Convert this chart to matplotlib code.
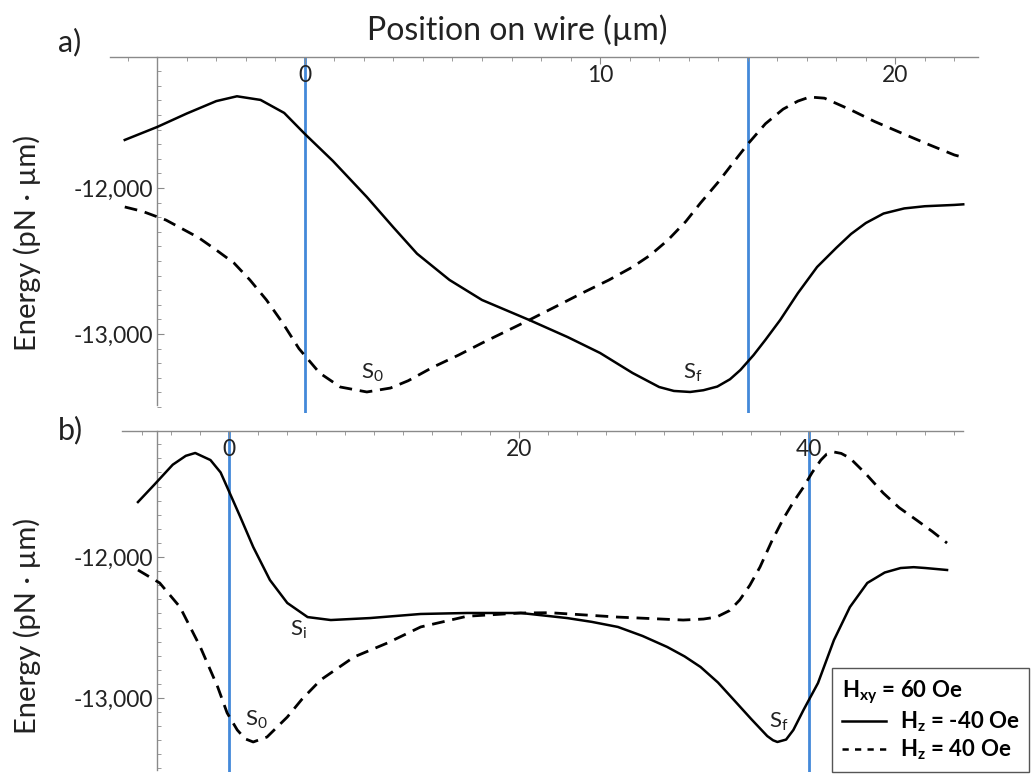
import numpy as np
import matplotlib
matplotlib.use("Agg")
import matplotlib.pyplot as plt
from matplotlib.lines import Line2D
from matplotlib.ticker import MultipleLocator, FuncFormatter

plt.rcParams['font.family'] = ['Lato', 'DejaVu Sans']

# panel a) energy vs position (um, pN*um)
xa_solid = [-6.1, -5.0, -4.0, -3.0, -2.3, -1.5, -0.7, 0.0, 0.95, 2.1, 3.0, 3.8, 4.9, 6.0,
            7.6, 8.9, 10.0, 11.1, 12.0, 12.5, 13.05, 13.5, 13.97, 14.4, 14.75, 15.2, 15.6,
            16.1, 16.7, 17.35, 18.0, 18.5, 19.0, 19.6, 20.3, 21.0, 22.0, 22.3]
ea_solid = [-11671, -11582, -11490, -11405, -11372, -11397, -11486, -11630, -11815, -12062,
            -12270, -12450, -12630, -12767, -12904, -13021, -13130, -13267, -13363, -13390,
            -13397, -13385, -13360, -13310, -13247, -13144, -13040, -12904, -12720, -12541,
            -12410, -12315, -12240, -12175, -12140, -12125, -12116, -12112]
xa_dash = [-6.1, -5.5, -4.7, -3.6, -3.0, -2.4, -1.86, -1.3, -0.75, -0.2, 0.5, 1.2, 2.1, 2.9,
           3.5, 4.35, 5.2, 6.0, 7.6, 8.5, 9.4, 10.3, 11.1, 11.7, 12.3, 12.9, 13.4, 14.0, 14.5,
           15.0, 15.6, 16.2, 16.7, 17.1, 17.6, 18.5, 19.3, 20.2, 21.1, 22.0, 22.3]
ea_dash = [-12130, -12160, -12220, -12340, -12425, -12514, -12630, -12767, -12925, -13100,
           -13267, -13363, -13397, -13370, -13320, -13226, -13145, -13062, -12904, -12812,
           -12719, -12630, -12541, -12460, -12356, -12230, -12103, -11960, -11829, -11700,
           -11560, -11460, -11405, -11377, -11385, -11466, -11545, -11623, -11700, -11774,
           -11790]

# panel b)
xb_solid = [-6.3, -5.2, -3.9, -3.0, -2.35, -1.3, -0.6, -0.15, 0.76, 1.65, 2.8, 4.0, 5.4, 7.0,
            9.7, 13.2, 16.4, 20.1, 23.3, 25.0, 26.8, 28.5, 30.2, 31.4, 32.5, 33.7, 34.8,
            36.0, 37.1, 37.5, 37.8, 38.4, 38.9, 39.6, 40.6, 41.7, 42.8, 44.0, 45.2, 46.3,
            47.2, 48.0, 49.5]
eb_solid = [-11610, -11490, -11345, -11282, -11262, -11312, -11400, -11504, -11716, -11929,
            -12163, -12326, -12426, -12447, -12433, -12404, -12397, -12397, -12433, -12460,
            -12496, -12560, -12638, -12705, -12780, -12890, -13014, -13150, -13270, -13300,
            -13312, -13295, -13227, -13085, -12894, -12589, -12355, -12184, -12110, -12078,
            -12072, -12078, -12092]
xb_dash = [-6.3, -4.8, -3.4, -2.0, -0.8, -0.15, 0.55, 1.1, 1.65, 2.6, 4.0, 5.0, 6.3, 8.6,
           10.9, 13.2, 16.4, 20.1, 22.1, 26.8, 31.3, 32.7, 33.6, 34.5, 35.2, 35.9, 36.6,
           37.4, 38.2, 38.9, 39.6, 40.2, 40.8, 41.2, 41.7, 42.2, 42.8, 43.9, 45.1, 46.2,
           47.4, 48.5, 49.5]
eb_dash = [-12092, -12184, -12355, -12638, -12922, -13106, -13227, -13290, -13312, -13277,
           -13135, -13010, -12872, -12709, -12610, -12496, -12420, -12397, -12395, -12426,
           -12447, -12440, -12426, -12380, -12305, -12200, -12071, -11890, -11730, -11610,
           -11504, -11400, -11312, -11270, -11255, -11265, -11298, -11410, -11546, -11650,
           -11738, -11820, -11901]

marks_a = [0, 15]
marks_b = [0, 40]
labels_a = [("S", "0", 2.3, -13267), ("S", "f", 13.15, -13267)]
labels_b = [("S", "i", 4.8, -12518), ("S", "0", 1.9, -13156), ("S", "f", 37.9, -13170)]

blue = '#4389d9'
axis_gray = '#8a8a8a'

fig = plt.figure(figsize=(10.32, 7.8), dpi=100)
ax1 = fig.add_axes([110/1032, 1-413/780, 868/1032, 356/780])
ax2 = fig.add_axes([122/1032, 1-772/780, 841/1032, 341/780])


def style(ax, xlim, ylim, spine_bottom, minor_x):
    ax.set_xlim(*xlim)
    ax.set_ylim(*ylim)
    ax.patch.set_alpha(0)
    ax.spines['top'].set_visible(False)
    ax.spines['right'].set_visible(False)
    ax.spines['bottom'].set_position(('axes', 1.0))
    ax.spines['left'].set_position(('data', -5))
    ax.spines['left'].set_bounds(spine_bottom, ylim[1])
    for s in ('bottom', 'left'):
        ax.spines[s].set_color(axis_gray)
        ax.spines[s].set_linewidth(1.0)
    ax.xaxis.set_major_locator(MultipleLocator(minor_x * 10))
    ax.xaxis.set_minor_locator(MultipleLocator(minor_x))
    ax.yaxis.set_major_locator(MultipleLocator(1000))
    ax.yaxis.set_minor_locator(MultipleLocator(100))
    ax.yaxis.set_major_formatter(FuncFormatter(lambda v, p: f"{v:,.0f}"))
    ax.tick_params(axis='x', which='both', direction='out', colors=axis_gray,
                   labelcolor='#222222', labelsize=16.5, pad=1)
    ax.tick_params(axis='y', which='both', direction='in', colors=axis_gray,
                   labelcolor='#222222', labelsize=16.5, pad=3)
    ax.tick_params(which='major', length=5)
    ax.tick_params(which='minor', length=3)


style(ax1, (-6.6, 22.8), (-13541, -11103), -13486, 1)
style(ax2, (-7.4, 50.6), (-13525, -11106), -13511, 2)

for ax, marks in ((ax1, marks_a), (ax2, marks_b)):
    for m in marks:
        ax.axvline(m, color=blue, lw=2.0, zorder=1)

dash = (4.6, 2.8)
ax1.plot(xa_solid, ea_solid, color='black', lw=1.8, zorder=3)
ax1.plot(xa_dash, ea_dash, color='black', lw=2.0, dashes=dash, zorder=3)
ax2.plot(xb_solid, eb_solid, color='black', lw=1.8, zorder=3)
ax2.plot(xb_dash, eb_dash, color='black', lw=2.0, dashes=dash, zorder=3)

for ax, labs in ((ax1, labels_a), (ax2, labels_b)):
    for base, sub, x, y in labs:
        ax.text(x, y, rf"$\mathregular{{{base}_{sub}}}$", fontsize=16, ha='center', va='center',
                color='#222222')

fig.text(517/1032, 1-30/780, "Position on wire (µm)", fontsize=23, ha='center', va='center',
         color='#222222')
fig.text(70/1032, 1-42/780, "a)", fontsize=22, ha='center', va='center', color='#222222')
fig.text(70/1032, 1-430/780, "b)", fontsize=22, ha='center', va='center', color='#222222')
fig.text(27/1032, 1-243/780, "Energy (pN · µm)", fontsize=21, rotation=90, ha='center',
         va='center', color='#222222')
fig.text(27/1032, 1-626/780, "Energy (pN · µm)", fontsize=21, rotation=90, ha='center',
         va='center', color='#222222')

handles = [Line2D([], [], color='black', lw=1.8),
           Line2D([], [], color='black', lw=1.8, dashes=(2.5, 2.5))]
leg = fig.legend(handles, [r"$\mathregular{H_z}$ = -40 Oe", r"$\mathregular{H_z}$ = 40 Oe"],
                 title=r"$\mathregular{H_{xy}}$ = 60 Oe", alignment='left',
                 loc='lower left', bbox_to_anchor=(832/1032, 1-772/780),
                 frameon=True, fancybox=False, edgecolor='#555555', framealpha=1,
                 prop={'size': 16, 'weight': 'bold'}, title_fontproperties={'size': 16, 'weight': 'bold'},
                 handlelength=2.0, handletextpad=0.6, borderpad=0.45, labelspacing=0.15,
                 borderaxespad=0)
leg.get_frame().set_linewidth(1.0)

fig.savefig("out.png", dpi=100)
